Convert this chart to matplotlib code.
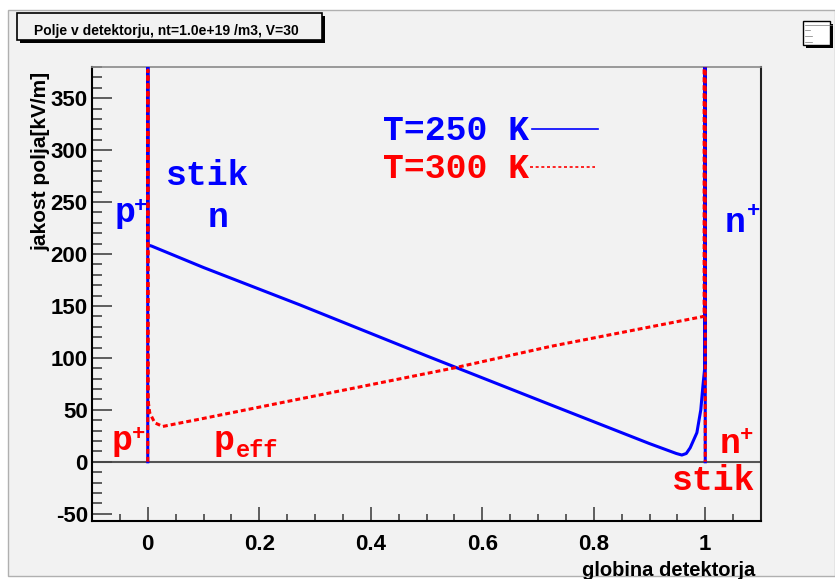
import matplotlib

matplotlib.use("Agg")
import matplotlib.pyplot as plt
from matplotlib import font_manager
from matplotlib.lines import Line2D
from matplotlib.patches import Rectangle
from matplotlib.ticker import MultipleLocator

plt.rcParams["axes.unicode_minus"] = False

# depth across the detector (0..1) and field strength [kV/m]
# (the spikes at the contacts run off the top of the frame)
depth_250 = [0.0, 0.0002, 0.0004, 0.0066, 0.1, 0.273, 0.5, 0.722, 0.9, 0.948,
             0.958, 0.966, 0.973, 0.985, 0.992, 0.996, 0.999, 0.9998, 1.0]
field_250 = [0.0, 1e6, 208.6, 207.7, 187.0, 151.0, 102.0, 55.0, 17.5, 8.0,
             6.5, 8.0, 13.5, 28.0, 50.0, 74.0, 90.0, 1e6, 0.0]

depth_300 = [0.0, 0.0002, 0.0004, 0.0036, 0.0126, 0.027, 0.05, 0.093, 0.273,
             0.551, 0.722, 0.998, 0.9998, 1.0]
field_300 = [0.0, 377.05, 60.0, 47.0, 37.5, 34.0, 36.5, 41.0, 60.5,
             90.5, 111.0, 140.0, 1e6, 0.0]

legend_labels = ["T=250 K", "T=300 K"]
title = "Polje v detektorju, nt=1.0e+19 /m3, V=30"

BG = "#f2f2f2"
BLUE = "#0000ff"
RED = "#ff0000"
W, H = 835, 579

available = {f.name for f in font_manager.fontManager.ttflist}
if "Liberation Sans Narrow" in available:
    title_font, title_size = "Liberation Sans Narrow", 12.5
else:
    title_font, title_size = "Liberation Sans", 10.0
MONO = ["Liberation Mono", "DejaVu Sans Mono"]
SANS = ["Liberation Sans", "DejaVu Sans"]


def fx(px):
    return px / W


def fy(py):
    return 1 - py / H


fig = plt.figure(figsize=(W / 100, H / 100), dpi=100, facecolor="white")

# ROOT-like canvas pad
fig.patches.append(Rectangle((fx(8), fy(576)), fx(835) - fx(8), fy(10) - fy(576),
                             transform=fig.transFigure, facecolor=BG,
                             edgecolor="#b0b0b0", lw=1.0, zorder=-5))

ax = fig.add_axes([fx(92), fy(521), fx(761) - fx(92), fy(67) - fy(521)])
ax.set_zorder(1)
ax.set_facecolor(BG)
ax.set_xlim(-0.1, 1.1)
ax.set_ylim(-57, 380)

ax.axhline(0, color="#555555", lw=1.5, zorder=1)
ax.plot(depth_250, field_250, color=BLUE, lw=2.2, zorder=3)
ax.plot(depth_300, field_300, color=RED, lw=2.2, ls=(0, (1.6, 1.0)), zorder=4)

ax.xaxis.set_major_locator(MultipleLocator(0.2))
ax.xaxis.set_minor_locator(MultipleLocator(0.05))
ax.yaxis.set_major_locator(MultipleLocator(50))
ax.yaxis.set_minor_locator(MultipleLocator(10))
ax.set_xticks([0, 0.2, 0.4, 0.6, 0.8, 1.0])
ax.set_xticklabels(["0", "0.2", "0.4", "0.6", "0.8", "1"])
ax.tick_params(axis="both", which="both", direction="in", color="#444444", width=1.2,
               labelsize=16, top=False, right=False)
ax.tick_params(axis="y", which="major", length=14.4, pad=3)
ax.tick_params(axis="y", which="minor", length=7.2)
ax.tick_params(axis="x", which="major", length=10, pad=9.5)
ax.tick_params(axis="x", which="minor", length=5)
for lab in ax.get_xticklabels() + ax.get_yticklabels():
    lab.set_fontweight("bold")
    lab.set_family(SANS)

ax.spines["left"].set(color="black", lw=1.5)
ax.spines["bottom"].set(color="black", lw=1.5)
ax.spines["top"].set(color="#8a8a8a", lw=1.2)
ax.spines["right"].set(color="#222222", lw=1.5)

fig.text(fx(41), fy(72), "jakost polja[kV/m]", rotation=90, ha="center", va="top",
         fontsize=15, fontweight="bold", family=SANS, zorder=6)
fig.text(fx(755), fy(576), "globina detektorja", ha="right", va="baseline",
         fontsize=14.5, fontweight="bold", family=SANS)

# title box with shadow
fig.patches.append(Rectangle((fx(20), fy(43)), fx(322) - fx(17), fy(13) - fy(40),
                             transform=fig.transFigure, facecolor="black", lw=0, zorder=2))
fig.patches.append(Rectangle((fx(17), fy(40)), fx(322) - fx(17), fy(13) - fy(40),
                             transform=fig.transFigure, facecolor=BG,
                             edgecolor="black", lw=1.2, zorder=3))
fig.text(fx(166), fy(35.5), title, ha="center", va="baseline", fontsize=title_size,
         fontweight="bold", family=[title_font, "DejaVu Sans"], zorder=4)

# small empty legend icon in the corner
fig.patches.append(Rectangle((fx(806), fy(48)), fx(830) - fx(803), fy(21) - fy(45),
                             transform=fig.transFigure, facecolor="black", lw=0, zorder=2))
fig.patches.append(Rectangle((fx(803), fy(45)), fx(830) - fx(803), fy(21) - fy(45),
                             transform=fig.transFigure, facecolor="white",
                             edgecolor="black", lw=1.0, zorder=3))
for py, x2 in [(24.5, 832), (30, 810), (36, 812), (42, 812)]:
    fig.lines.append(Line2D([fx(805), fx(x2)], [fy(py), fy(py)], transform=fig.transFigure,
                            color="#777777", lw=0.5, zorder=4))

# legend
fig.text(fx(383), fy(140), legend_labels[0], color=BLUE, fontsize=25, fontweight="bold",
         family=MONO, va="baseline", zorder=6)
fig.lines.append(Line2D([fx(532), fx(598)], [fy(129), fy(129)], transform=fig.transFigure,
                        color=BLUE, lw=1.2, zorder=6))
fig.text(fx(383), fy(178), legend_labels[1], color=RED, fontsize=25, fontweight="bold",
         family=MONO, va="baseline", zorder=6)
fig.lines.append(Line2D([fx(530), fx(595)], [fy(167), fy(167)], transform=fig.transFigure,
                        color=RED, lw=1.2, ls=(0, (1.8, 1.6)), zorder=6))


def mono(px, py, s, color, size=25, ha="center", va="baseline"):
    fig.text(fx(px), fy(py), s, color=color, fontsize=size, fontweight="bold",
             family=MONO, ha=ha, va=va, zorder=6)


# region labels
mono(125, 222, "p", BLUE)
mono(141, 206, "+", BLUE, size=16, va="center")
mono(208, 185, "stik", BLUE)
mono(218, 227, "n", BLUE)
mono(735, 232, "n", BLUE)
mono(754, 211.5, "+", BLUE, size=16, va="center")

mono(122, 450, "p", RED)
mono(139, 434, "+", RED, size=16, va="center")
mono(224, 450, "p", RED)
mono(236, 457, "eff", RED, size=17, ha="left")
mono(730, 453, "n", RED)
mono(747, 435.5, "+", RED, size=16, va="center")
mono(714, 490, "stik", RED)

fig.savefig("out.png", dpi=100, facecolor="white")
